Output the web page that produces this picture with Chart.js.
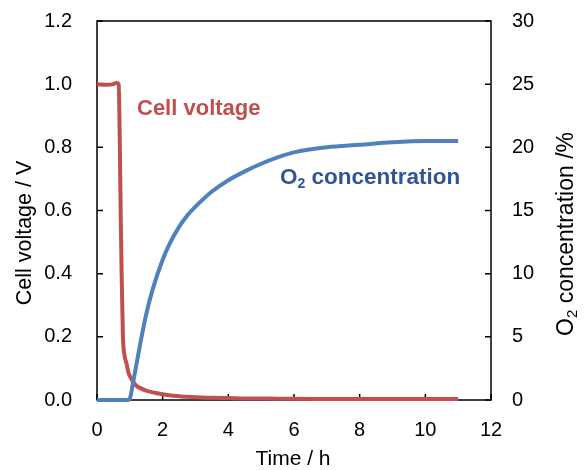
<!DOCTYPE html>
<html>
<head>
<meta charset="utf-8">
<script src="https://cdn.jsdelivr.net/npm/chart.js@4/dist/chart.umd.min.js"></script>
<style>
  body { margin: 0; background: #fff; }
  canvas { display: block; }
</style>
</head>
<body>
<canvas id="myChart" width="584" height="470"></canvas>
<script>
// time in hours, shared by both series
let times = [0, 0.3, 0.5, 0.6, 0.66, 0.69, 0.72, 0.75, 0.79, 0.84, 0.9, 0.95,
  1.0, 1.1, 1.2, 1.35, 1.5, 1.7, 2.0, 2.2, 2.5, 2.75, 3.0, 3.5, 4.0, 4.5, 5.0, 5.5, 6.0,
  7.0, 8.0, 9.0, 10.0, 11.0];

// cell voltage / V (left axis)
let cellVoltage = [1.0, 0.998, 1.0, 1.004, 1.0, 0.85, 0.6, 0.4, 0.2, 0.14, 0.115, 0.09,
  0.075, 0.058, 0.045, 0.036, 0.03, 0.024, 0.018, 0.015, 0.012, 0.01, 0.009, 0.007, 0.006, 0.005, 0.005, 0.004, 0.004,
  0.003, 0.003, 0.003, 0.003, 0.003];

// O2 concentration / % (right axis)
let o2Conc = [0, 0, 0, 0, 0, 0, 0, 0, 0, 0, 0, 0,
  0.1, 1.4, 2.8, 4.9, 6.8, 8.8, 11.1, 12.3, 13.7, 14.6, 15.3, 16.5, 17.4, 18.1, 18.7, 19.2, 19.6,
  20.0, 20.2, 20.4, 20.5, 20.5];

let xTicks = [0, 2, 4, 6, 8, 10, 12];
let voltTicks = [0, 0.2, 0.4, 0.6, 0.8, 1.0, 1.2];
let o2Ticks = [0, 5, 10, 15, 20, 25, 30];

const RED = '#C0504D';
const BLUE = '#4F81BD';
const FONT = '"Liberation Sans", Arial, sans-serif';

function toPoints(ys) {
  return times.map((t, i) => ({ x: t, y: ys[i] }));
}

function noPad(s) {
  s.paddingTop = 0; s.paddingBottom = 0; s.paddingLeft = 0; s.paddingRight = 0;
}

// frame and inward tick marks go under the lines, titles and labels on top
const decorations = {
  id: 'decorations',
  beforeDatasetsDraw(chart) {
    const c = chart.ctx;
    const a = chart.chartArea;
    const sx = chart.scales.x, sy = chart.scales.y, sy2 = chart.scales.y2;
    c.save();
    c.strokeStyle = '#000';
    c.lineWidth = 1.5;
    c.strokeRect(a.left, a.top, a.right - a.left, a.bottom - a.top);
    c.beginPath();
    xTicks.forEach(v => {
      const px = sx.getPixelForValue(v);
      c.moveTo(px, a.bottom); c.lineTo(px, a.bottom - 6);
    });
    voltTicks.forEach(v => {
      const py = sy.getPixelForValue(v);
      c.moveTo(a.left, py); c.lineTo(a.left + 6, py);
    });
    o2Ticks.forEach(v => {
      const py = sy2.getPixelForValue(v);
      c.moveTo(a.right, py); c.lineTo(a.right - 6, py);
    });
    c.stroke();
    c.restore();
  },
  afterDraw(chart) {
    const c = chart.ctx;
    c.save();
    // axis titles
    c.fillStyle = '#000';
    c.font = '21px ' + FONT;
    c.textAlign = 'center';
    c.textBaseline = 'middle';
    c.fillText('Time / h', 293, 459);

    c.save();
    c.translate(25, 233);
    c.rotate(-Math.PI / 2);
    c.font = '21.5px ' + FONT;
    c.fillText('Cell voltage / V', 0, 0);
    c.restore();

    // right title with subscript 2, reading bottom to top
    c.save();
    c.translate(566, 234);
    c.rotate(-Math.PI / 2);
    c.textAlign = 'left';
    drawO2(c, '23px ' + FONT, '15px ' + FONT, ' concentration /%', 0, 0, true);
    c.restore();

    // in-plot labels
    c.textAlign = 'left';
    c.textBaseline = 'alphabetic';
    c.fillStyle = RED;
    c.font = 'bold 22px ' + FONT;
    c.fillText('Cell voltage', 137, 115);

    c.fillStyle = '#2F5597';
    drawO2(c, 'bold 22.5px ' + FONT, 'bold 14px ' + FONT, ' concentration', 280, 184, false);
    c.restore();
  }
};

// draws "O" + subscript "2" + rest; centred = centre whole string around x
function drawO2(c, bigFont, smallFont, rest, x, y, centred) {
  c.font = bigFont;
  const wO = c.measureText('O').width;
  const wRest = c.measureText(rest).width;
  c.font = smallFont;
  const w2 = c.measureText('2').width;
  const total = wO + w2 + wRest;
  let px = centred ? x - total / 2 : x;
  const base = centred ? y + 7 : y;
  c.textBaseline = 'alphabetic';
  c.font = bigFont;
  c.fillText('O', px, base);
  px += wO;
  c.font = smallFont;
  c.fillText('2', px, base + 4);
  px += w2;
  c.font = bigFont;
  c.fillText(rest, px, base);
}

const ctx = document.getElementById('myChart');
new Chart(ctx, {
  type: 'line',
  data: {
    datasets: [{
      label: 'O2 concentration',
      data: toPoints(o2Conc),
      yAxisID: 'y2',
      borderColor: BLUE,
      borderWidth: 4,
      pointRadius: 0,
      cubicInterpolationMode: 'monotone',
      clip: 3,
      order: 1
    }, {
      label: 'Cell voltage',
      data: toPoints(cellVoltage),
      yAxisID: 'y',
      borderColor: RED,
      borderWidth: 4,
      pointRadius: 0,
      cubicInterpolationMode: 'monotone',
      clip: 3,
      order: 2
    }]
  },
  options: {
    responsive: false,
    animation: false,
    layout: { padding: { top: 21, left: 0, right: 0, bottom: 0 } },
    plugins: { legend: { display: false }, tooltip: { enabled: false } },
    scales: {
      x: {
        type: 'linear', min: 0, max: 12,
        afterFit: s => { s.height = 70; noPad(s); },
        grid: { display: false, drawTicks: false },
        border: { display: false },
        ticks: { stepSize: 2, padding: 18, color: '#000', font: { family: FONT, size: 20 } }
      },
      y: {
        position: 'left', min: 0, max: 1.2,
        afterFit: s => { s.width = 97; noPad(s); },
        grid: { display: false, drawTicks: false },
        border: { display: false },
        ticks: { stepSize: 0.2, padding: 25, color: '#000', font: { family: FONT, size: 20 },
          callback: v => v.toFixed(1) }
      },
      y2: {
        position: 'right', min: 0, max: 30,
        afterFit: s => { s.width = 93; noPad(s); },
        grid: { display: false, drawTicks: false },
        border: { display: false },
        ticks: { stepSize: 5, padding: 21, color: '#000', font: { family: FONT, size: 20 } }
      }
    }
  },
  plugins: [decorations]
});
</script>
</body>
</html>
